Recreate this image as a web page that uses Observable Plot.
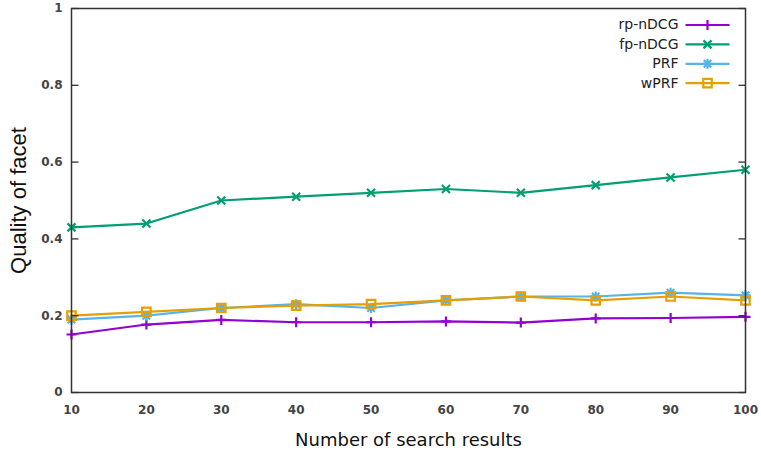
<!DOCTYPE html>
<html>
<head>
<meta charset="utf-8">
<script src="https://cdn.jsdelivr.net/npm/d3@7"></script>
<script src="https://cdn.jsdelivr.net/npm/@observablehq/plot@0.6"></script>
<style>
  html, body { margin: 0; padding: 0; background: #ffffff; }
  #chart svg { display: block; }
</style>
</head>
<body>
<div id="chart"></div>
<script>
// ---- data ----
const searchResults = [10, 20, 30, 40, 50, 60, 70, 80, 90, 100];
const rpNDCG = [0.151, 0.177, 0.189, 0.183, 0.183, 0.185, 0.182, 0.193, 0.194, 0.197];
const fpNDCG = [0.43, 0.44, 0.50, 0.51, 0.52, 0.53, 0.52, 0.54, 0.56, 0.58];
const prf    = [0.19, 0.20, 0.22, 0.23, 0.22, 0.24, 0.25, 0.25, 0.26, 0.253];
const wprf   = [0.20, 0.21, 0.22, 0.226, 0.23, 0.24, 0.25, 0.24, 0.25, 0.24];
const seriesNames  = ["rp-nDCG", "fp-nDCG", "PRF", "wPRF"];
const seriesValues = [rpNDCG, fpNDCG, prf, wprf];
const seriesColors = ["#9400d3", "#009e73", "#56b4e9", "#e69f00"];
const xTicks = [10, 20, 30, 40, 50, 60, 70, 80, 90, 100];
const yTicks = [0, 0.2, 0.4, 0.6, 0.8, 1];
const yTickLabels = ["0", "0.2", "0.4", "0.6", "0.8", "1"];
const xLabel = "Number of search results";
const yLabel = "Quality of facet";

// ---- custom symbols ----
const rad = (size) => Math.sqrt(size / Math.PI);
const symPlus = { draw(c, size) { const s = rad(size); c.moveTo(-s, 0); c.lineTo(s, 0); c.moveTo(0, -s); c.lineTo(0, s); } };
const symTimes = { draw(c, size) { const s = rad(size) * 0.8; c.moveTo(-s, -s); c.lineTo(s, s); c.moveTo(-s, s); c.lineTo(s, -s); } };
const symStar = { draw(c, size) { const s = rad(size); const t = s * 0.75; c.moveTo(-s, 0); c.lineTo(s, 0); c.moveTo(0, -s); c.lineTo(0, s); c.moveTo(-t, -t); c.lineTo(t, t); c.moveTo(-t, t); c.lineTo(t, -t); } };
const symSquare = { draw(c, size) { const s = rad(size) * 0.85; c.moveTo(-s, -s); c.lineTo(s, -s); c.lineTo(s, s); c.lineTo(-s, s); c.closePath(); } };
const seriesSymbols = [symPlus, symTimes, symStar, symSquare];
const symLine = { draw(c, size) { c.moveTo(-22, 0); c.lineTo(22, 0); } };
const tickRight = { draw(c, size) { c.moveTo(0, 0); c.lineTo(7, 0); } };
const tickLeft = { draw(c, size) { c.moveTo(0, 0); c.lineTo(-7, 0); } };

// ---- tidy table ----
const rows = [];
seriesNames.forEach((name, i) => {
  searchResults.forEach((x, j) => rows.push({ series: name, x, y: seriesValues[i][j] }));
});

const marks = [];
seriesNames.forEach((name, i) => {
  const d = rows.filter(r => r.series === name);
  marks.push(Plot.line(d, { x: "x", y: "y", stroke: seriesColors[i], strokeWidth: 2.2 }));
  marks.push(Plot.dot(d, { x: "x", y: "y", stroke: seriesColors[i], fill: "none", r: 5, strokeWidth: 2.2, symbol: seriesSymbols[i] }));
});

// inward ticks on left and right of the frame
marks.push(Plot.dot(yTicks, { y: d => d, frameAnchor: "left", symbol: tickRight, stroke: "#333", strokeWidth: 1.3 }));
marks.push(Plot.dot(yTicks, { y: d => d, frameAnchor: "right", symbol: tickLeft, stroke: "#333", strokeWidth: 1.3 }));

// legend
seriesNames.forEach((name, i) => {
  const dy = 16.5 + i * 19.4;
  marks.push(Plot.text([name], { text: d => d, frameAnchor: "top-right", dx: -67, dy, textAnchor: "end", lineAnchor: "middle", fontSize: 14, fontWeight: "normal", fill: "#222", fontFamily: "DejaVu Sans" }));
  marks.push(Plot.dot([name], { frameAnchor: "top-right", dx: -38, dy, symbol: symLine, stroke: seriesColors[i], strokeWidth: 2.2 }));
  marks.push(Plot.dot([name], { frameAnchor: "top-right", dx: -38, dy, symbol: seriesSymbols[i], r: 5, stroke: seriesColors[i], fill: "none", strokeWidth: 2.2 }));
});

// axis labels
marks.push(Plot.text([xLabel], { text: d => d, frameAnchor: "bottom", dy: 48, lineAnchor: "middle", textAnchor: "middle", fontSize: 18, fontWeight: "normal", fill: "#111", fontFamily: "DejaVu Sans" }));
marks.push(Plot.text([yLabel], { text: d => d, frameAnchor: "left", dx: -53, rotate: -90, textAnchor: "middle", lineAnchor: "middle", fontSize: 22, fontWeight: "normal", fill: "#111", fontFamily: "Liberation Sans" }));

marks.push(Plot.frame({ stroke: "#333", strokeWidth: 1.5 }));

const chart = Plot.plot({
  width: 761,
  height: 454,
  marginLeft: 71,
  marginRight: 16,
  marginTop: 8,
  marginBottom: 62,
  style: { fontFamily: "DejaVu Sans", fontSize: "12px", fontWeight: "bold", color: "#444", background: "#fff" },
  x: { domain: [10, 100], ticks: xTicks, tickSize: 0, tickPadding: 13, tickFormat: d => String(d), label: null },
  y: { domain: [0, 1], ticks: yTicks, tickSize: 0, tickPadding: 9, tickFormat: d => yTickLabels[yTicks.indexOf(d)], label: null },
  marks
});
document.getElementById("chart").appendChild(chart);
</script>
</body>
</html>
